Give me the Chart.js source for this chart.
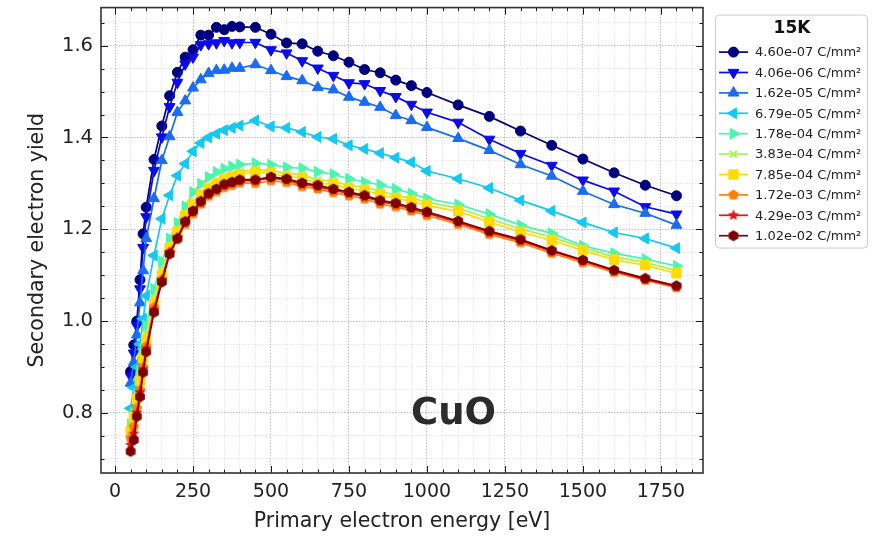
<!DOCTYPE html>
<html>
<head>
<meta charset="utf-8">
<script src="https://cdn.jsdelivr.net/npm/chart.js@4.4.0/dist/chart.umd.min.js"></script>
<style>
    html, body { margin: 0; padding: 0; background: #fff; }
    #wrap { width: 891px; height: 538px; }
</style>
</head>
<body>
<div id="wrap"><canvas id="sey" width="891" height="538"></canvas></div>
<script>
// primary energy (eV)
const energies = [50, 60, 70, 80, 90, 100, 125, 150, 175, 200, 225, 250, 275, 300, 325, 350, 375, 400, 450,
    500, 550, 600, 650, 700, 750, 800, 850, 900, 950, 1000, 1100, 1200, 1300, 1400, 1500, 1600, 1700, 1800]

// SEY per dose
const sey460e07 = [0.890, 0.948, 1.000, 1.090, 1.190, 1.248, 1.352, 1.425, 1.491, 1.542, 1.575, 1.591, 1.623, 1.623, 1.640, 1.635, 1.642, 1.641, 1.640,
    1.625, 1.606, 1.604, 1.588, 1.578, 1.564, 1.548, 1.541, 1.525, 1.513, 1.498, 1.471, 1.446, 1.414, 1.383, 1.353, 1.323, 1.296, 1.273]
const sey406e06 = [0.880, 0.930, 0.990, 1.070, 1.160, 1.227, 1.328, 1.401, 1.467, 1.520, 1.560, 1.575, 1.602, 1.604, 1.606, 1.611, 1.606, 1.607, 1.607,
    1.591, 1.584, 1.567, 1.551, 1.535, 1.519, 1.517, 1.502, 1.489, 1.472, 1.455, 1.433, 1.396, 1.365, 1.339, 1.307, 1.283, 1.249, 1.233]
const sey162e05 = [0.865, 0.910, 0.970, 1.040, 1.110, 1.180, 1.267, 1.350, 1.402, 1.455, 1.480, 1.508, 1.526, 1.540, 1.546, 1.547, 1.551, 1.551, 1.559,
    1.546, 1.533, 1.524, 1.509, 1.504, 1.488, 1.477, 1.466, 1.448, 1.437, 1.422, 1.398, 1.372, 1.341, 1.316, 1.283, 1.254, 1.235, 1.209]
const sey679e05 = [0.810, 0.855, 0.900, 0.950, 1.005, 1.055, 1.143, 1.223, 1.274, 1.317, 1.343, 1.370, 1.388, 1.400, 1.408, 1.416, 1.421, 1.426, 1.437,
    1.424, 1.421, 1.412, 1.401, 1.397, 1.383, 1.375, 1.366, 1.356, 1.346, 1.327, 1.310, 1.290, 1.263, 1.240, 1.215, 1.193, 1.180, 1.159]
const sey178e04 = [0.775, 0.800, 0.840, 0.890, 0.940, 0.990, 1.070, 1.130, 1.180, 1.214, 1.250, 1.281, 1.299, 1.314, 1.325, 1.332, 1.337, 1.341, 1.344,
    1.341, 1.335, 1.333, 1.325, 1.320, 1.310, 1.303, 1.297, 1.288, 1.278, 1.267, 1.254, 1.233, 1.209, 1.191, 1.164, 1.148, 1.135, 1.120]
const sey383e04 = [0.770, 0.795, 0.835, 0.880, 0.930, 0.970, 1.050, 1.110, 1.165, 1.200, 1.235, 1.260, 1.280, 1.295, 1.305, 1.315, 1.320, 1.325, 1.330,
    1.328, 1.322, 1.319, 1.307, 1.305, 1.295, 1.292, 1.283, 1.274, 1.268, 1.259, 1.246, 1.223, 1.201, 1.183, 1.160, 1.140, 1.128, 1.110]
const sey785e04 = [0.760, 0.790, 0.830, 0.870, 0.920, 0.960, 1.040, 1.100, 1.160, 1.195, 1.230, 1.255, 1.275, 1.290, 1.300, 1.310, 1.315, 1.320, 1.325,
    1.322, 1.314, 1.312, 1.299, 1.299, 1.288, 1.285, 1.276, 1.267, 1.261, 1.252, 1.239, 1.216, 1.194, 1.176, 1.154, 1.134, 1.122, 1.104]
const sey172e03 = [0.745, 0.770, 0.810, 0.850, 0.900, 0.945, 1.030, 1.090, 1.150, 1.178, 1.211, 1.234, 1.255, 1.272, 1.282, 1.291, 1.296, 1.301, 1.300,
    1.306, 1.302, 1.293, 1.288, 1.280, 1.273, 1.266, 1.255, 1.249, 1.240, 1.230, 1.211, 1.189, 1.171, 1.148, 1.127, 1.106, 1.089, 1.073]
const sey429e03 = [0.730, 0.755, 0.800, 0.845, 0.895, 0.940, 1.025, 1.090, 1.150, 1.182, 1.215, 1.238, 1.259, 1.276, 1.286, 1.296, 1.301, 1.306, 1.306,
    1.312, 1.307, 1.298, 1.293, 1.285, 1.278, 1.271, 1.260, 1.254, 1.245, 1.235, 1.215, 1.193, 1.175, 1.152, 1.131, 1.109, 1.091, 1.075]
const sey102e02 = [0.716, 0.741, 0.792, 0.835, 0.888, 0.933, 1.019, 1.085, 1.146, 1.180, 1.217, 1.240, 1.261, 1.278, 1.288, 1.298, 1.303, 1.308, 1.308,
    1.314, 1.310, 1.301, 1.296, 1.288, 1.281, 1.274, 1.263, 1.257, 1.248, 1.238, 1.218, 1.196, 1.178, 1.154, 1.133, 1.111, 1.093, 1.077]

const doseLabels = ["4.60e-07", "4.06e-06", "1.62e-05", "6.79e-05", "1.78e-04", "3.83e-04", "7.85e-04", "1.72e-03", "4.29e-03", "1.02e-02"]
const doseUnit = "C/mm²"
const legendTitle = "15K"
const sampleLabel = "CuO"
const sampleLabelAt = { x: 1085, y: 0.796 }

const xTickValues = [0, 250, 500, 750, 1000, 1250, 1500, 1750]
const yTickValues = [0.8, 1.0, 1.2, 1.4, 1.6]
const xRange = [-45, 1885]
const yRange = [0.669, 1.683]

// custom filled polygon markers (pentagon, star, hexagon)
function polyMarker(points, color, r, inner) {
    const size = Math.ceil(r * 2 + 4)
    const c = document.createElement("canvas")
    c.width = size
    c.height = size
    const ctx = c.getContext("2d")
    const n = inner ? points * 2 : points
    ctx.beginPath()
    for (let i = 0; i < n; i++) {
        const a = -Math.PI / 2 + (i * 2 * Math.PI) / n
        const rr = inner && i % 2 ? r * inner : r
        const px = size / 2 + Math.cos(a) * rr
        const py = size / 2 + Math.sin(a) * rr
        i ? ctx.lineTo(px, py) : ctx.moveTo(px, py)
    }
    ctx.closePath()
    ctx.fillStyle = color
    ctx.fill()
    return c
}

const seriesData = [sey460e07, sey406e06, sey162e05, sey679e05, sey178e04, sey383e04, sey785e04, sey172e03, sey429e03, sey102e02]
const seriesStyle = [
    { color: "#00007f", style: "circle", radius: 5, rotation: 0 },
    { color: "#0a0af0", style: "triangle", radius: 6.3, rotation: 180 },
    { color: "#1a6cf2", style: "triangle", radius: 6.3, rotation: 0 },
    { color: "#14c8f0", style: "triangle", radius: 6.3, rotation: -90 },
    { color: "#4cf5ae", style: "triangle", radius: 6.3, rotation: 90 },
    { color: "#a8f25a", style: "crossRot", radius: 4.8, rotation: 0 },
    { color: "#ffdc00", style: "rect", radius: 6.6, rotation: 0 },
    { color: "#ff7f0a", style: polyMarker(5, "#ff7f0a", 5.6), radius: 5, rotation: 0 },
    { color: "#f01010", style: polyMarker(5, "#f01010", 6, 0.45), radius: 5, rotation: 0 },
    { color: "#7f0000", style: polyMarker(6, "#7f0000", 5.6), radius: 5, rotation: 0 },
]

const datasets = seriesData.map((values, i) => {
    const s = seriesStyle[i]
    return {
        label: `${doseLabels[i]} ${doseUnit}`,
        data: values.map((v, k) => ({ x: energies[k], y: v })),
        borderColor: s.color,
        backgroundColor: s.color,
        borderWidth: 1.7,
        pointStyle: s.style,
        pointRadius: s.radius,
        pointRotation: s.rotation,
        pointBorderWidth: s.style === "crossRot" ? 2 : 1,
        pointBorderColor: s.color,
        pointBackgroundColor: s.color,
        tension: 0,
        order: -i, // later series on top, like matplotlib
    }
})

const xMinor = []
for (let v = 0; v <= xRange[1]; v += 50) xMinor.push(v)
const yMinor = []
for (let k = Math.ceil(yRange[0] * 20); k <= Math.floor(yRange[1] * 20); k++) yMinor.push(Math.round(k * 5) / 100)

const isMajorX = (v) => xTickValues.includes(v)
const isMajorY = (v) => yTickValues.some((t) => Math.abs(t - v) < 1e-6)

const noOverflow = (scale) => {
    scale.paddingTop = 0
    scale.paddingBottom = 0
    scale.paddingLeft = 0
    scale.paddingRight = 0
}

const frameTicks = {
    id: "frameTicks",
    afterDatasetsDraw(chart) {
        const { ctx, chartArea: a, scales } = chart
        ctx.save()
        ctx.strokeStyle = "#1a1a1a"
        ctx.lineWidth = 1
        ctx.beginPath()
        xMinor.forEach((v) => {
            const px = Math.round(scales.x.getPixelForValue(v)) + 0.5
            const len = isMajorX(v) ? 7 : 3.5
            ctx.moveTo(px, a.bottom)
            ctx.lineTo(px, a.bottom - len)
            ctx.moveTo(px, a.top)
            ctx.lineTo(px, a.top + len)
        })
        yMinor.forEach((v) => {
            const py = Math.round(scales.y.getPixelForValue(v)) + 0.5
            const len = isMajorY(v) ? 7 : 3.5
            ctx.moveTo(a.left, py)
            ctx.lineTo(a.left + len, py)
            ctx.moveTo(a.right, py)
            ctx.lineTo(a.right - len, py)
        })
        ctx.stroke()
        ctx.lineWidth = 1.6
        ctx.strokeStyle = "#333"
        ctx.strokeRect(a.left, a.top, a.right - a.left, a.bottom - a.top)

        // sample label
        ctx.fillStyle = "#2b2b2b"
        ctx.font = "bold 37px 'DejaVu Sans'"
        ctx.textAlign = "center"
        ctx.textBaseline = "middle"
        ctx.fillText(sampleLabel, scales.x.getPixelForValue(sampleLabelAt.x), scales.y.getPixelForValue(sampleLabelAt.y))
        ctx.restore()
    },
}

const boxLegend = {
    id: "boxLegend",
    afterDraw(chart) {
        const { ctx, chartArea: a } = chart
        const left = a.right + 12
        const top = a.top + 7
        const w = 152
        const h = 233
        ctx.save()
        ctx.fillStyle = "rgba(255,255,255,0.9)"
        ctx.strokeStyle = "#cccccc"
        ctx.lineWidth = 1
        ctx.beginPath()
        ctx.roundRect(left + 0.5, top + 0.5, w, h, 4)
        ctx.fill()
        ctx.stroke()

        ctx.fillStyle = "#111"
        ctx.font = "bold 17px 'DejaVu Sans'"
        ctx.textAlign = "center"
        ctx.textBaseline = "middle"
        ctx.fillText(legendTitle, left + w / 2 + 1, top + 14)

        ctx.font = "13px 'DejaVu Sans'"
        ctx.textAlign = "left"
        chart.data.datasets.forEach((ds, i) => {
            const s = seriesStyle[i]
            const cy = top + 37.5 + i * 20.4
            ctx.strokeStyle = s.color
            ctx.fillStyle = s.color
            ctx.lineWidth = 1.7
            ctx.beginPath()
            ctx.moveTo(left + 4, cy)
            ctx.lineTo(left + 33, cy)
            ctx.stroke()
            ctx.lineWidth = s.style === "crossRot" ? 2 : 1
            Chart.helpers.drawPoint(ctx, { pointStyle: s.style, rotation: s.rotation, radius: s.radius, borderWidth: ctx.lineWidth }, left + 18.5, cy)
            ctx.fillStyle = "#222"
            ctx.fillText(ds.label, left + 40, cy + 1)
        })
        ctx.restore()
    },
}

Chart.defaults.font.family = "'DejaVu Sans', sans-serif"
Chart.defaults.color = "#222"

new Chart(document.getElementById("sey"), {
    type: "line",
    data: { datasets },
    plugins: [frameTicks, boxLegend],
    options: {
        responsive: false,
        animation: false,
        devicePixelRatio: 1,
        layout: { padding: { left: 0, right: 188, top: 5, bottom: 0 } },
        plugins: { legend: { display: false }, tooltip: { enabled: false } },
        scales: {
            x: {
                type: "linear",
                min: xRange[0],
                max: xRange[1],
                afterFit: (scale) => {
                    scale.height = 65
                    noOverflow(scale)
                },
                afterBuildTicks: (scale) => {
                    scale.ticks = xMinor.map((v) => ({ value: v }))
                },
                ticks: {
                    autoSkip: false,
                    maxRotation: 0,
                    padding: 8,
                    font: { size: 19 },
                    callback: (value) => (isMajorX(value) ? String(value) : ""),
                },
                grid: {
                    drawTicks: false,
                    lineWidth: 0.8,
                    color: (c) => (c.tick && isMajorX(c.tick.value) ? "rgba(0,0,0,0.32)" : "rgba(0,0,0,0.13)"),
                },
                border: { display: false, dash: [1.5, 1.5] },
                title: {
                    display: true,
                    text: "Primary electron energy [eV]",
                    font: { size: 20.5 },
                    padding: { top: 2, bottom: 4 },
                },
            },
            y: {
                type: "linear",
                min: yRange[0],
                max: yRange[1],
                afterFit: (scale) => {
                    scale.width = 101
                    noOverflow(scale)
                },
                afterBuildTicks: (scale) => {
                    scale.ticks = yMinor.map((v) => ({ value: v }))
                },
                ticks: {
                    autoSkip: false,
                    padding: 8,
                    font: { size: 19.5 },
                    callback: (value) => (isMajorY(value) ? value.toFixed(1) : ""),
                },
                grid: {
                    drawTicks: false,
                    lineWidth: 0.8,
                    color: (c) => (c.tick && isMajorY(c.tick.value) ? "rgba(0,0,0,0.32)" : "rgba(0,0,0,0.13)"),
                },
                border: { display: false, dash: [1.5, 1.5] },
                title: {
                    display: true,
                    text: "Secondary electron yield",
                    font: { size: 20.5 },
                    padding: { top: 25, bottom: 4 },
                },
            },
        },
    },
})
</script>
</body>
</html>
